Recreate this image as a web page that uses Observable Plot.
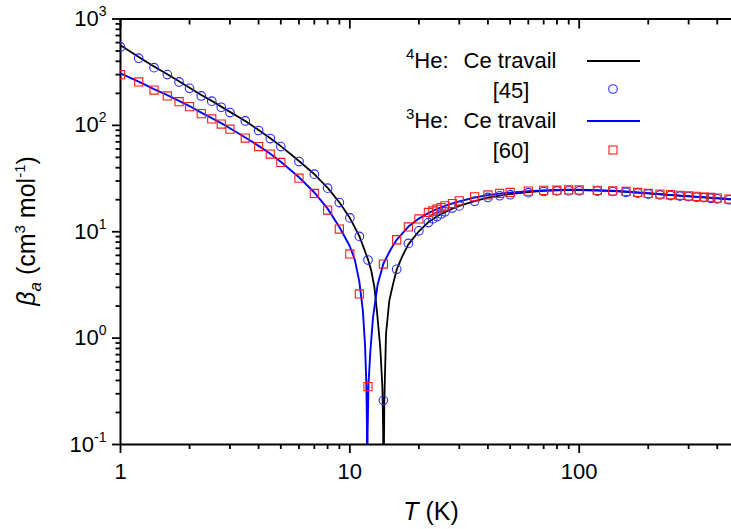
<!DOCTYPE html>
<html><head><meta charset="utf-8">
<script src="https://cdn.jsdelivr.net/npm/d3@7"></script>
<script src="https://cdn.jsdelivr.net/npm/@observablehq/plot@0.6"></script>
<style>
html,body{margin:0;padding:0;background:#fff;overflow:hidden;}
svg{overflow:hidden;}
</style>
</head><body><div id="chart"></div>
<script>
// ---- Data ----
// 4He, "Ce travail" (black curve)
const he4CurveT = [1,1.2,1.4,1.6,1.8,2,2.25,2.5,2.75,3,3.5,4,4.5,5,6,7,8,9,10,11,12,12.4,12.8,13.14,13.58,13.86,13.97,14.0,14.14,14.38,14.86,15.42,16,17,18,20,22,24,26,28,30,35,40,45,50,60,70,80,90,100,120,140,160,180,200,250,300,350,400,450,500];
const he4CurveB = [568,440,357,303,260,226,193,170,150,134,110,90.5,75.8,63.8,46.2,34.8,25.9,18.9,13.5,9.1,5.5,4.3,3.0,1.75,0.8,0.35,0.14,0.02,0.26,1.1,2.25,3.2,4.4,6.0,7.6,10.1,12.3,14.0,15.3,16.5,17.5,19.4,20.9,21.9,22.6,23.6,24.2,24.5,24.6,24.6,24.4,24.1,23.7,23.3,22.9,22.1,21.5,21.0,20.6,20.2,19.8];
// 3He, "Ce travail" (blue curve)
const he3CurveT = [1,1.2,1.4,1.6,1.8,2,2.25,2.5,2.75,3,3.5,4,4.5,5,6,7,8,9,10,10.5,11,11.4,11.65,11.8,11.87,11.9,11.95,12.06,12.29,12.62,13.22,14,15,16,18,20,22,24,26,28,30,35,40,45,50,60,70,80,90,100,120,140,160,180,200,250,300,350,400,450,500];
const he3CurveB = [308,258,219,192,170,152,132,117,105,94,77,64.2,54.2,45.5,32.5,23.4,16.5,11.1,7.3,5.5,3.4,1.8,0.85,0.38,0.16,0.02,0.13,0.37,0.76,1.57,3.2,5.0,6.7,8.4,11.2,13.3,15.0,16.4,17.5,18.5,19.3,21.0,22.1,22.8,23.3,24.1,24.5,24.7,24.8,24.8,24.6,24.3,23.9,23.4,23.0,22.2,21.6,21.1,20.7,20.3,19.9];
// 4He, ref [45] (blue circles)
const he4RefT = [1,1.2,1.4,1.6,1.8,2,2.25,2.5,2.75,3,3.5,4,4.5,5,6,7,8,9,10,11,12,14,16,18,20,22,23,24,25,26,28,30,35,40,45,50,60,70,80,90,100,120,140,160,180,200,225,250,275,300,325,350,375,400,450];
const he4RefB = [546,428,349,300,256,223,189,169,148,132,110,89.5,75.2,63.2,45.7,34.8,25.7,18.8,13.5,9.04,5.42,0.26,4.43,7.77,10.2,12.2,13.2,13.9,14.7,15.4,16.7,17.5,19.3,21.0,21.8,22.3,23.3,23.9,24.2,24.3,24.3,24.1,23.9,23.5,23.1,22.6,22.2,21.9,21.6,21.4,21.1,20.9,20.6,20.4,20.0];
// 3He, ref [60] (red squares)
const he3RefT = [1,1.2,1.4,1.6,1.8,2,2.25,2.5,2.75,3,3.5,4,4.5,5,6,7,8,9,10,11,12,14,16,18,20,22,23,24,25,26,28,30,35,40,45,50,60,70,80,90,100,120,140,160,180,200,225,250,275,300,325,350,375,400,450];
const he3RefB = [300,256,215,189,167,150,129,115,103,92,76,63.2,53.7,44.8,31.9,22.9,16.0,10.6,6.18,2.6,0.35,4.97,8.41,11.1,13.2,15.2,15.7,16.3,16.9,17.5,18.4,19.5,21.3,22.2,22.9,23.4,24.1,24.5,24.6,24.7,24.7,24.5,24.2,23.9,23.4,22.9,22.6,22.3,22.0,21.7,21.5,21.2,21.0,20.7,20.3];

// ticks
const xMajorTicks = [1, 10, 100];
const xMajorLabels = ["1", "10", "100"];
const xMinorTicks = [2,3,4,5,6,7,8,9,20,30,40,50,60,70,80,90,200,300,400];
const yMajorTicks = [0.1, 1, 10, 100, 1000];
const yMajorLabels = ["10^-1", "10^0", "10^1", "10^2", "10^3"];
const yMinorTicks = [0.2,0.3,0.4,0.5,0.6,0.7,0.8,0.9,2,3,4,5,6,7,8,9,20,30,40,50,60,70,80,90,200,300,400,500,600,700,800,900];

const rows = (T, B) => T.map((t, i) => ({T: t, B: B[i]}));
const he4Curve = rows(he4CurveT, he4CurveB);
const he3Curve = rows(he3CurveT, he3CurveB);
const he4Ref = rows(he4RefT, he4RefB);
const he3Ref = rows(he3RefT, he3RefB);

const FONT = "'Liberation Sans', Arial, Helvetica, sans-serif";
const TW = 1.8;

const svg = Plot.plot({
  width: 731,
  height: 529,
  marginLeft: 120,
  marginRight: -8,
  marginTop: 18.5,
  marginBottom: 85,
  style: {fontFamily: FONT, fontSize: "22px", background: "white", color: "black"},
  x: {type: "log", domain: [1, 500]},
  y: {type: "log", domain: [0.1, 1000]},
  marks: [
    // bottom axis
    Plot.axisX({anchor: "bottom", ticks: xMajorTicks, tickSize: 9, tickPadding: 10, strokeWidth: TW,
      tickFormat: d => xMajorLabels[xMajorTicks.indexOf(d)], label: null}),
    Plot.axisX({anchor: "bottom", ticks: xMinorTicks, tickSize: 5, strokeWidth: TW, tickFormat: () => "", label: null}),
    // top axis (inward ticks)
    Plot.axisX({anchor: "top", ticks: xMajorTicks, tickSize: 9, dy: 9, strokeWidth: TW, tickFormat: () => "", label: null}),
    Plot.axisX({anchor: "top", ticks: xMinorTicks, tickSize: 5, dy: 5, strokeWidth: TW, tickFormat: () => "", label: null}),
    // left axis
    Plot.axisY({anchor: "left", ticks: yMajorTicks, tickSize: 8, tickPadding: 6, strokeWidth: TW,
      tickFormat: d => yMajorLabels[yMajorTicks.indexOf(d)], label: null}),
    Plot.axisY({anchor: "left", ticks: yMinorTicks, tickSize: 4.5, strokeWidth: TW, tickFormat: () => "", label: null}),
    // right axis (inward ticks)
    Plot.axisY({anchor: "right", ticks: yMajorTicks, tickSize: 9, dx: -9, strokeWidth: TW, tickFormat: () => "", label: null}),
    Plot.axisY({anchor: "right", ticks: yMinorTicks, tickSize: 5, dx: -5, strokeWidth: TW, tickFormat: () => "", label: null}),
    Plot.frame({stroke: "black", strokeWidth: 2}),
    // curves
    Plot.line(he4Curve, {x: "T", y: "B", stroke: "#000000", strokeWidth: 1.8, clip: true}),
    Plot.line(he3Curve, {x: "T", y: "B", stroke: "#0000ff", strokeWidth: 1.9, clip: true}),
    // reference data
    Plot.dot(he4Ref, {x: "T", y: "B", r: 4.3, stroke: "#2a2aff", strokeWidth: 1.1, fill: "none", clip: true}),
    Plot.dot(he3Ref, {x: "T", y: "B", r: 4.6, symbol: "square", stroke: "#ff1a1a", strokeWidth: 1.1, fill: "none", clip: true})
  ]
});

const s = d3.select(svg);
// superscript exponents in y tick labels
s.selectAll("text").each(function() {
  const t = this.textContent;
  if (t.startsWith("10^")) {
    const exp = t.slice(3);
    this.textContent = "";
    const sel = d3.select(this);
    sel.append("tspan").text("10");
    sel.append("tspan").attr("font-size", 14).attr("dy", -10).text(exp);
  }
});

// axis titles
const xl = s.append("text").attr("x", 431).attr("y", 519.5).attr("text-anchor", "middle")
  .attr("font-family", FONT).attr("font-size", 25).attr("fill", "black");
xl.append("tspan").attr("font-style", "italic").text("T");
xl.append("tspan").text(" (K)");

const yl = s.append("text").attr("transform", "translate(35,231) rotate(-90)").attr("text-anchor", "middle")
  .attr("font-family", FONT).attr("font-size", 25).attr("fill", "black");
yl.append("tspan").attr("font-style", "italic").text("β");
yl.append("tspan").attr("font-style", "italic").attr("font-size", 17).attr("dy", 6).text("a");
yl.append("tspan").attr("dy", -6).text(" (cm");
yl.append("tspan").attr("font-size", 15).attr("dy", -10).text("3");
yl.append("tspan").attr("dy", 10).text(" mol");
yl.append("tspan").attr("font-size", 15).attr("dy", -10).text("-1");
yl.append("tspan").attr("dy", 10).text(")");

// legend
const lg = s.append("g").attr("font-family", FONT).attr("font-size", 22).attr("fill", "black");
function heLabel(y, iso) {
  const t = lg.append("text").attr("x", 406).attr("y", y).attr("text-anchor", "start");
  t.append("tspan").attr("font-size", 15).attr("dy", -9).text(iso);
  t.append("tspan").attr("dy", 9).text("He:");
  lg.append("text").attr("x", 510).attr("y", y).attr("text-anchor", "middle").text("Ce travail");
}
heLabel(68, "4");
lg.append("line").attr("x1", 587).attr("x2", 640).attr("y1", 61).attr("y2", 61).attr("stroke", "#000").attr("stroke-width", 1.8);
lg.append("text").attr("x", 511).attr("y", 98).attr("text-anchor", "middle").text("[45]");
lg.append("circle").attr("cx", 613).attr("cy", 89).attr("r", 4.3).attr("fill", "none").attr("stroke", "#2a2aff").attr("stroke-width", 1.1);
heLabel(128, "3");
lg.append("line").attr("x1", 587).attr("x2", 640).attr("y1", 121).attr("y2", 121).attr("stroke", "#0000ff").attr("stroke-width", 1.9);
lg.append("text").attr("x", 511).attr("y", 158).attr("text-anchor", "middle").text("[60]");
lg.append("rect").attr("x", 609).attr("y", 146).attr("width", 8).attr("height", 8).attr("fill", "none").attr("stroke", "#ff1a1a").attr("stroke-width", 1.1);

document.getElementById("chart").appendChild(svg);
</script>
</body></html>
